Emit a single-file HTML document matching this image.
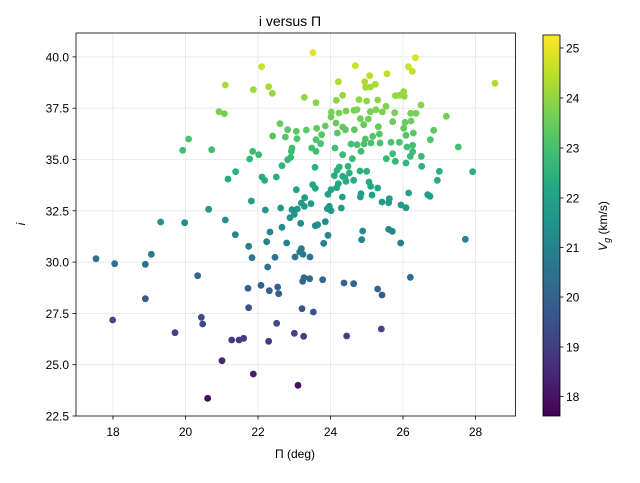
<!DOCTYPE html>
<html><head><meta charset="utf-8"><style>
body{margin:0;background:#fff;}
svg{font-family:"Liberation Sans","DejaVu Sans",sans-serif;}
</style></head><body>
<svg id="s" width="640" height="478" xmlns="http://www.w3.org/2000/svg">
<defs><linearGradient id="vg" x1="0" y1="1" x2="0" y2="0">
<stop offset="0" stop-color="#440154"/><stop offset="0.1" stop-color="#482475"/><stop offset="0.2" stop-color="#414487"/><stop offset="0.3" stop-color="#355f8d"/><stop offset="0.4" stop-color="#2a788e"/><stop offset="0.5" stop-color="#21918c"/><stop offset="0.6" stop-color="#22a884"/><stop offset="0.7" stop-color="#44bf70"/><stop offset="0.8" stop-color="#7ad151"/><stop offset="0.9" stop-color="#bddf26"/><stop offset="1" stop-color="#fde725"/>
</linearGradient></defs>
<g id="grid" stroke="#e6e6e6" stroke-width="0.8"></g>
<g id="pts"></g>
<rect x="76" y="33" width="439.5" height="383" fill="none" stroke="#000" stroke-width="0.8"/>
<g id="ticks" font-size="12" fill="#000"></g>
<text x="290" y="26" font-size="14" text-anchor="middle">i versus Π</text>
<text x="295" y="458" font-size="12" text-anchor="middle">Π (deg)</text>
<text x="25" y="224" font-size="12" text-anchor="middle" font-style="italic" transform="rotate(-90 25 224)">i</text>
<rect x="543" y="35" width="17" height="381" fill="url(#vg)"/>
<rect x="543" y="35" width="17" height="381" fill="none" stroke="#000" stroke-width="0.8"/>
<g id="cb" font-size="12"></g>
<text x="607" y="226" font-size="12" text-anchor="middle" transform="rotate(-90 607 226)"><tspan font-style="italic">V</tspan><tspan font-size="9" dy="3" font-style="italic">g</tspan><tspan dy="-3"> (km/s)</tspan></text>
</svg>
<script>
var ns="http://www.w3.org/2000/svg";
function el(t,a,p,txt){var e=document.createElementNS(ns,t);for(var k in a)e.setAttribute(k,a[k]);if(txt!=null)e.textContent=txt;document.getElementById(p).appendChild(e);return e;}
var xs=[[18,113],[20,185.5],[22,258],[24,330.5],[26,403],[28,475.5]];
xs.forEach(function(t){el("line",{x1:t[1],x2:t[1],y1:33,y2:416},"grid");el("line",{x1:t[1],x2:t[1],y1:416,y2:419.5,stroke:"#000","stroke-width":0.8},"ticks");el("text",{x:t[1],y:436,"text-anchor":"middle"},"ticks",t[0]);});
var ys=[["22.5",416],["25.0",364.7],["27.5",313.4],["30.0",262.1],["32.5",210.8],["35.0",159.5],["37.5",108.2],["40.0",56.9]];
ys.forEach(function(t){el("line",{y1:t[1],y2:t[1],x1:76,x2:515.5},"grid");el("line",{y1:t[1],y2:t[1],x1:72.5,x2:76,stroke:"#000","stroke-width":0.8},"ticks");el("text",{x:69,y:t[1]+4.5,"text-anchor":"end"},"ticks",t[0]);});
[[25,48],[24,98],[23,148],[22,198],[21,247.5],[20,297],[19,347],[18,396.5]].forEach(function(t){el("line",{x1:560,x2:563.5,y1:t[1],y2:t[1],stroke:"#000","stroke-width":0.8},"cb");el("text",{x:566,y:t[1]+4.5},"cb",t[0]);});
var P=[711,59,1018,74,557,101,838,98,997,101,1009,115,1257,151,933,122,881,128,866,146,898,154,869,163,883,162,787,146,448,156,532,170,578,161,589,181,685,193,720,209,800,187,781,202,849,200,872,204,905,201,958,188,970,187,983,176,985,190,1035,216,930,220,1111,250,429,236,445,242,612,272,766,237,789,240,810,234,834,232,843,230,883,236,900,230,919,237,956,239,1004,241,1020,241,765,252,780,270,800,282,784,300,808,290,835,290,853,257,863,275,877,258,907,281,950,266,987,268,1005,264,983,286,1012,300,990,307,1073,292,1063,320,1147,342,748,279,722,286,691,291,661,295,635,290,628,312,663,317,590,309,338,318,320,352,407,350,737,305,720,320,734,332,707,345,720,355,777,345,800,365,825,333,843,335,864,333,868,318,890,310,910,303,885,330,912,330,945,328,970,328,993,342,1010,337,1010,356,1003,370,990,390,1036,370,1037,400,958,385,950,362,931,377,855,355,829,377,816,400,790,402,783,412,775,428,800,430,810,445,833,442,852,414,872,415,879,447,884,460,905,465,820,420,807,435,787,452,782,464,765,470,756,484,799,492,796,525,760,520,754,527,765,533,748,566,725,575,718,578,756,607,743,631,717,403,710,455,718,466,661,470,686,494,676,510,685,520,705,512,664,528,648,530,655,544,642,554,614,525,568,531,526,504,558,432,566,442,601,432,618,398,635,380,644,373,648,345,646,355,548,365,530,355,521,378,456,438,479,416,398,529,448,561,478,605,518,640,528,674,572,626,582,597,618,583,632,630,674,571,676,647,671,657,681,664,657,672,702,672,597,673,575,702,855,482,853,492,888,486,918,507,940,497,938,509,975,516,990,524,998,480,1055,485,1062,490,1084,442,1090,415,1190,416,860,594,857,620,938,589,949,595,974,630,1168,619,254,567,326,569,226,664,60,677,116,692,208,694,365,728,684,734,680,745,701,737,740,740,804,750,833,752,905,768,918,786,1003,733,516,766,555,757,580,773,605,762,608,782,518,824,678,827,712,837,208,797,110,861,376,853,380,873,297,899,602,871,467,921,489,921,503,916,578,925,655,901,683,910,812,909,916,888,438,983,532,1023,666,1057,395,1096];
var V=[[68,1,84],[72,36,117],[65,68,135],[53,95,141],[42,120,142],[33,145,140],[34,168,132],[68,191,112],[122,209,81],[189,223,38],[253,231,37]];
function cm(t){t=Math.max(0,Math.min(1,t));var f=t*10,i=Math.min(9,Math.floor(f)),r=f-i,a=V[i],b=V[i+1];return "rgb("+[0,1,2].map(function(k){return Math.round(a[k]+(b[k]-a[k])*r)}).join(",")+")";}
for(var j=0;j<P.length;j+=2){var x=76+P[j]/3,y=33+P[j+1]/3;var iv=40-(y-56.9)/51.3*2.5;var v=17.7+(iv-23.4)*0.433;var t=(v-17.6)/(25.3-17.6);el("circle",{cx:x,cy:y,r:3.4,fill:cm(t)},"pts");}
</script>
</body></html>
